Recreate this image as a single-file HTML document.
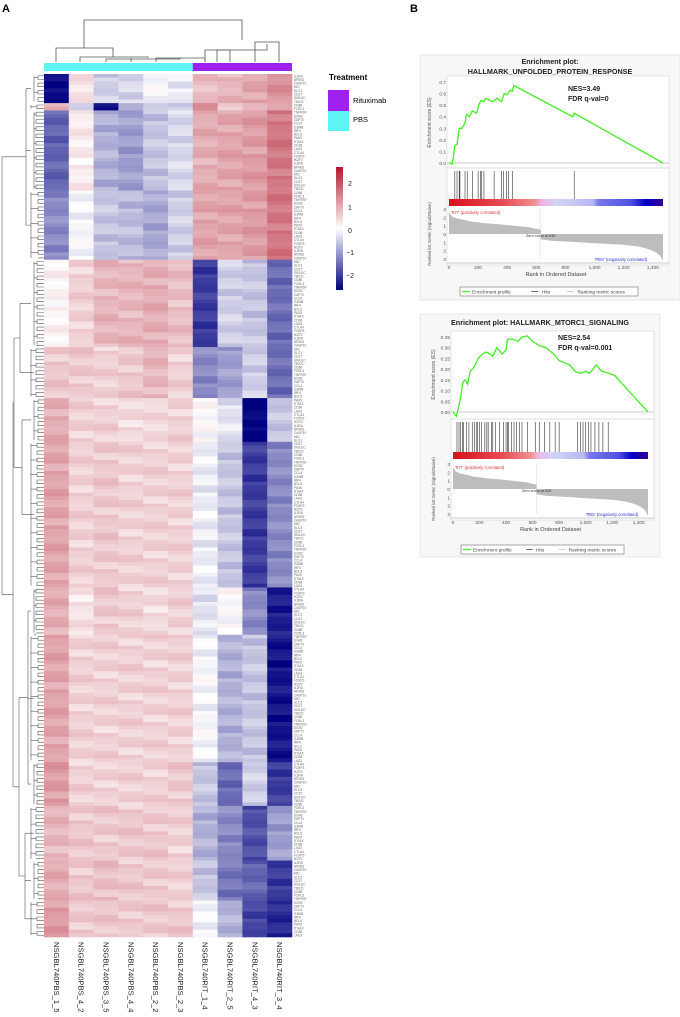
<!DOCTYPE html>
<html><head><meta charset="utf-8"><style>
html,body{margin:0;padding:0;background:#fff;}
svg{display:block;font-family:"Liberation Sans",sans-serif;}
</style></head><body>
<svg id="fig" width="680" height="1017" viewBox="0 0 680 1017" xmlns="http://www.w3.org/2000/svg">
<text x="2" y="12" font-size="11" font-weight="bold">A</text>
<text x="410" y="12" font-size="11" font-weight="bold">B</text>
<g id="heat"></g>
<g id="dendro"></g>
<g stroke="#555" stroke-width="0.8" fill="none">
<path d="M84 48 V20 H242 V40"/>
<path d="M56 62 V48 H113 V57"/>
<path d="M80 62 V57 H148 V58"/>
<path d="M106 62 V59 H180 V58"/>
<path d="M131 62 V58 H131 M156 62 V58 H205 V62"/>
<path d="M217 62 V50 H267 V44"/>
<path d="M205 62 V50 H230 V50 M230 62 V50"/>
<path d="M255 44 V42 H279 V62 M255 62 V44"/>
</g>
<rect x="44" y="63" width="148.8" height="8" fill="#5ff5f5"/>
<rect x="192.8" y="63" width="99.2" height="8" fill="#a020f0"/>
<g id="collabels"></g>
<g>
<text x="329" y="80" font-size="8" font-weight="bold">Treatment</text>
<rect x="328" y="90" width="21" height="21" fill="#a020f0"/>
<text x="353" y="103" font-size="7.5">Rituximab</text>
<rect x="328" y="111" width="21" height="20" fill="#5ff5f5"/>
<text x="353" y="122" font-size="7.5">PBS</text>
</g>
<defs>
<linearGradient id="cs" x1="0" y1="0" x2="0" y2="1">
<stop offset="0" stop-color="#b2182b"/><stop offset="0.5" stop-color="#ffffff"/><stop offset="1" stop-color="#000080"/>
</linearGradient>
<linearGradient id="rb" x1="0" y1="0" x2="1" y2="0">
<stop offset="0" stop-color="#d8101a"/><stop offset="0.25" stop-color="#e84a55"/><stop offset="0.4" stop-color="#f09090"/><stop offset="0.43" stop-color="#f0b0e0"/><stop offset="0.5" stop-color="#d4d4f6"/><stop offset="0.67" stop-color="#b8b8f4"/><stop offset="0.7" stop-color="#7878ee"/><stop offset="0.85" stop-color="#5050e0"/><stop offset="0.92" stop-color="#0000c8"/><stop offset="1" stop-color="#3a0090"/>
</linearGradient>
</defs>
<g>
<rect x="336" y="167" width="7" height="123" fill="url(#cs)"/>
<g font-size="7" fill="#222">
<text x="348" y="186">2</text>
<text x="348" y="210">1</text>
<text x="348" y="233">0</text>
<text x="346" y="255">−1</text>
<text x="346" y="278">−2</text>
</g></g>
<g id="gsea1"></g>
<g id="gsea2"></g>
</svg>
<script>
// ===== Heatmap data =====
const samples = ["NSGBL740PBS_1_5","NSGBL740PBS_4_2","NSGBL740PBS_3_5","NSGBL740PBS_4_4","NSGBL740PBS_2_2","NSGBL740PBS_2_3","NSGBL740RIT_1_4","NSGBL740RIT_2_5","NSGBL740RIT_4_3","NSGBL740RIT_3_4"];
const blockRows = [8,2,22,19,24,14,12,40,13,35,12,15,11,10];
const blockValues = [
 [-2.5,0.3,-0.5,-0.4,-0.1,-0.2,0.7,0.8,1.0,1.2],
 [0.8,-0.3,-2.4,-0.8,-0.6,-0.6,1.5,0.6,0.8,0.9],
 [-1.6,0.2,-0.8,-1.0,-0.6,-0.4,0.9,1.0,1.1,1.5],
 [-1.2,-0.1,-0.6,-0.7,-0.9,-0.5,1.0,1.0,1.1,1.5],
 [0.1,0.5,0.8,0.8,0.9,0.7,-2.0,-0.5,-0.6,-1.5],
 [0.6,0.6,0.5,0.6,0.8,0.5,-1.2,-1.0,-0.5,-1.5],
 [0.9,0.5,0.5,0.4,0.4,0.5,0.0,-0.3,-2.6,-0.6],
 [1.0,0.5,0.6,0.5,0.5,0.5,-0.2,-0.6,-2.0,-1.2],
 [0.9,0.3,0.6,0.5,0.4,0.5,-0.3,0.0,-1.2,-2.3],
 [1.0,0.5,0.5,0.5,0.5,0.5,-0.1,-0.8,-0.6,-2.4],
 [1.1,0.5,0.5,0.5,0.5,0.6,-0.6,-1.5,-0.5,-2.0],
 [0.8,0.6,0.6,0.6,0.6,0.5,-0.8,-1.2,-1.8,-1.0],
 [0.9,0.6,0.7,0.6,0.6,0.5,-0.6,-1.4,-1.6,-2.0],
 [1.1,0.6,0.6,0.6,0.6,0.6,-0.1,-0.8,-1.9,-2.2]
];
const rowJitter = [0.1,-0.14,0.04,0.17,-0.07,0.0,-0.2,0.14,0.07,-0.1,0.2,-0.04,0.0,0.14,-0.17];
const geneNames = ["IL2RA","NFKB2","CASP10","MIC","SLC3","CD27","SIGLEC","TBX21","CD86","FCRL3","TNFRSF","EGR2","ZAP70","CCL4","GZMB","IRF4","BCL6","PAX5","ITGAX","CD38","LAG3","CTLA4","FOXP3","IKZF2"];

const NS = "http://www.w3.org/2000/svg";
function mk(tag, attrs, parent){const e=document.createElementNS(NS,tag);for(const k in attrs)e.setAttribute(k,attrs[k]);parent.appendChild(e);return e;}
function colorFor(v){
  const t=Math.max(-1,Math.min(1,v/2.6));
  let r,g,b;
  if(t>=0){r=255+(178-255)*t;g=255+(24-255)*t;b=255+(43-255)*t;}
  else{const s=-t;r=255*(1-s);g=255*(1-s);b=255+(128-255)*s;}
  return `rgb(${r|0},${g|0},${b|0})`;
}
const HX0=44,HX1=292,HY0=74,HY1=937;
const totalRows=blockRows.reduce((a,b)=>a+b,0);
const colW=(HX1-HX0)/samples.length, rowH=(HY1-HY0)/totalRows;
const xCol=i=>HX0+i*colW, yRow=q=>HY0+q*rowH;
const heat=document.getElementById('heat');
let rowIdx=0;
const blockBounds=[];
blockRows.forEach((n,bi)=>{
  const start=rowIdx;
  for(let k=0;k<n;k++){
    for(let c=0;c<samples.length;c++){
      const j=rowJitter[(rowIdx*7+c*3)%rowJitter.length];
      const cell=mk('rect',{x:xCol(c).toFixed(2),y:yRow(rowIdx).toFixed(2),width:(colW+0.3).toFixed(2),height:(rowH+0.3).toFixed(2),fill:colorFor(blockValues[bi][c]+j)},heat);
      
      
    }
    const lbl=mk('text',{x:294,y:(yRow(rowIdx)+rowH*0.9).toFixed(2),'font-size':3.2,fill:'#666'},heat);
    lbl.textContent=geneNames[rowIdx%geneNames.length];
    
    
    rowIdx++;
  }
  blockBounds.push([start,rowIdx]);
});
// row dendrogram
const dg=document.getElementById('dendro');
function ln(d){const p=mk('path',{d:d,stroke:'#555','stroke-width':0.6,fill:'none'},dg);}
const blockMid=[];
blockBounds.forEach(([s,e],bi)=>{
  const xs=38-(bi%3);
  for(let k=s;k<e;k+=2){ln(`M${xs} ${yRow(k+0.5).toFixed(1)} H${HX0} M${xs} ${yRow(k+0.5).toFixed(1)} V${yRow(Math.min(k+1.5,e-0.5)).toFixed(1)} H${HX0}`);}
  const sub=34-(bi%2)*3;
  ln(`M${sub} ${yRow(s+0.5).toFixed(1)} V${yRow(e-0.5).toFixed(1)}`);
  for(let k=s;k<e;k+=4){ln(`M${sub} ${yRow(k+1).toFixed(1)} H${xs}`);}
  blockMid.push(yRow((s+e)/2));
});
function join(a,b,x){ln(`M${x} ${a.toFixed(1)} V${b.toFixed(1)}`);}
const bm=blockMid;
ln(`M26 ${bm[0]} H31 M26 ${bm[2]} H31 M26 ${bm[3]} H31`);join(bm[0],bm[3],26);
ln(`M20 ${bm[4]} H31 M20 ${bm[5]} H34`);join(bm[4],bm[5],20);
ln(`M22 ${bm[6]} H31 M22 ${bm[7]} H34`);join(bm[6],bm[7],22);
ln(`M28 ${bm[8]} H31 M28 ${bm[9]} H34 M28 ${bm[10]} H31`);join(bm[8],bm[10],28);
ln(`M25 ${bm[11]} H34 M25 ${bm[12]} H31 M25 ${bm[13]} H34`);join(bm[11],bm[13],25);
const m1=(bm[4]+bm[5])/2,m2=(bm[6]+bm[7])/2,m3=(bm[8]+bm[10])/2,m4=(bm[11]+bm[13])/2;
ln(`M14 ${m1} H20 M14 ${m2} H22`);join(m1,m2,14);
ln(`M19 ${m3} H28 M19 ${m4} H25`);join(m3,m4,19);
const n1=(m1+m2)/2,n2=(m3+m4)/2;
ln(`M13 ${n1} H14 M13 ${n2} H19`);join(n1,n2,13);
const yTopJoin=(bm[0]+bm[3])/2,yBotJoin=(n1+n2)/2;
ln(`M2 ${yTopJoin} H26 M2 ${yBotJoin} H13`);join(yTopJoin,yBotJoin,2);
// column labels
const cl=document.getElementById('collabels');
samples.forEach((s,i)=>{
  const cx=xCol(i)+colW/2;
  const t=mk('text',{x:0,y:0,'font-size':7.6,fill:'#222',transform:`translate(${(cx-2.5).toFixed(1)},942) rotate(90)`},cl);
  t.textContent=s;
  
  
});

// ===== GSEA data =====
const es1Rank=[0,20,30,40,55,70,90,110,120,140,160,190,205,220,240,250,300,330,360,380,400,420,435,445,850,860,1470];
const es1Val=[0,-0.01,0.05,0.15,0.16,0.3,0.3,0.35,0.42,0.4,0.45,0.43,0.5,0.54,0.53,0.56,0.53,0.56,0.53,0.6,0.59,0.63,0.62,0.67,0.4,0.43,0];
const hits1=[40,55,70,75,110,125,160,200,215,225,240,310,360,375,395,410,435,860];
const es2Rank=[0,25,45,60,75,90,110,130,160,190,220,250,280,300,330,370,400,410,450,490,520,560,600,650,700,760,800,880,920,960,1000,1030,1080,1120,1180,1220,1470];
const es2Val=[0,-0.02,0.03,0.08,0.14,0.15,0.13,0.19,0.21,0.25,0.27,0.28,0.27,0.26,0.3,0.27,0.29,0.34,0.34,0.33,0.35,0.355,0.33,0.31,0.3,0.27,0.24,0.22,0.19,0.18,0.19,0.18,0.22,0.19,0.18,0.17,0];
const hits2=[30,45,55,70,80,100,120,145,160,175,185,200,215,240,255,265,290,300,320,350,380,400,410,420,440,460,480,500,520,560,620,650,690,730,770,800,940,960,980,1000,1020,1040,1070,1100,1130,1170];
const metricRank=[0,20,50,100,150,250,350,450,550,630,630,700,800,900,1000,1100,1200,1300,1350,1400,1430,1450,1470];
const metricVal=[2.6,2.1,1.9,1.7,1.5,1.3,1.15,1.0,0.8,0.5,-0.65,-0.8,-0.9,-1.0,-1.1,-1.2,-1.3,-1.5,-1.7,-2.0,-2.3,-2.6,-3.2];
const xTicks=[0,200,400,600,800,1000,1200,1400];
const xTickLabels=["0","200","400","600","800","1,000","1,200","1,400"];
const es1Ticks=[0,0.1,0.2,0.3,0.4,0.5,0.6,0.7];
const es2Ticks=[0,0.05,0.1,0.15,0.2,0.25,0.3,0.35];
const metricTicks=[3,2,1,0,-1,-2,-3];

function gsea(g,cfg){
  const X=v=>cfg.x0+(v/1470)*(cfg.x1-cfg.x0);
  const Y=v=>cfg.esY0+(v/cfg.esMax)*(cfg.esTop-cfg.esY0);
  const M=v=>cfg.m0+v*(cfg.m3-cfg.m0)/3;
  function add(tag,attrs,nm){const e=mk(tag,attrs,g);return e;}
  add('rect',{x:cfg.bx0,y:cfg.by0,width:cfg.bx1-cfg.bx0,height:cfg.by1-cfg.by0,fill:'#f7f7f7',stroke:'#ddd','stroke-width':0.6},'plot-frame');
  add('rect',{x:cfg.x0-2,y:cfg.esTop-6,width:cfg.x1-cfg.x0+8,height:cfg.m0+(cfg.m0-cfg.m3)-cfg.esTop+12,fill:'#fff',stroke:'#ccc','stroke-width':0.5},'plot-area');
  cfg.titles.forEach((t,i)=>{const e=add('text',{x:(cfg.bx0+cfg.bx1)/2,y:cfg.titleY+i*10,'font-size':cfg.titleSize,'font-weight':'bold','text-anchor':'middle',fill:'#222'},'plot-title');e.textContent=t;});
  add('line',{x1:cfg.x0-2,x2:cfg.x1+6,y1:Y(0),y2:Y(0),stroke:'#999','stroke-width':0.6},'es-zero-line');
  cfg.esTicks.forEach(t=>{const e=add('text',{x:cfg.x0-3,y:Y(t)+2,'font-size':4.8,'text-anchor':'end',fill:'#555'},'es-tick-label');e.textContent=t.toFixed(cfg.dec);});
  const yt=add('text',{x:0,y:0,'font-size':5,fill:'#555','text-anchor':'middle',transform:`translate(${cfg.x0-18},${(Y(0)+cfg.esTop)/2}) rotate(-90)`},'es-axis-title');yt.textContent='Enrichment score (ES)';
  let d='';cfg.esRank.forEach((rk,i)=>{d+=(i?'L':'M')+X(rk).toFixed(1)+' '+Y(cfg.esVal[i]).toFixed(1);});
  add('path',{d:d,stroke:'#44ee22','stroke-width':1.3,fill:'none'},'enrichment-profile-line');
  const t1=add('text',{x:cfg.nesX,y:cfg.nesY,'font-size':7,'font-weight':'bold',fill:'#222'},'nes-annotation');t1.textContent=cfg.nes;
  const t2=add('text',{x:cfg.nesX,y:cfg.nesY+10,'font-size':7,'font-weight':'bold',fill:'#222'},'fdr-annotation');t2.textContent=cfg.fdr;
  add('line',{x1:cfg.x0-2,x2:cfg.x1+6,y1:cfg.hitTop-3,y2:cfg.hitTop-3,stroke:'#bbb','stroke-width':0.5},'hits-separator');
  cfg.hits.forEach(h=>add('line',{x1:X(h),x2:X(h),y1:cfg.hitTop,y2:cfg.barY,stroke:'#222','stroke-width':0.55},'hit-line'));
  add('rect',{x:cfg.x0,y:cfg.barY,width:cfg.x1-cfg.x0,height:7,fill:'url(#rb)'},'ranking-color-bar');
  let md='M'+X(0)+' '+M(0);metricRank.forEach((rk,i)=>{md+='L'+X(rk).toFixed(1)+' '+M(metricVal[i]).toFixed(1);});md+='L'+X(1470)+' '+M(0)+'Z';
  add('path',{d:md,fill:'#bdbdbd'},'ranked-metric-area');
  metricTicks.forEach(t=>{const e=add('text',{x:cfg.x0-3,y:M(t)+2,'font-size':4.8,'text-anchor':'end',fill:'#555'},'metric-tick-label');e.textContent=String(Math.abs(t));});
  const mt=add('text',{x:0,y:0,'font-size':4.3,fill:'#555','text-anchor':'middle',transform:`translate(${cfg.x0-18},${M(0)}) rotate(-90)`},'metric-axis-title');mt.textContent='Ranked list metric (Signal2Noise)';
  const p1=add('text',{x:cfg.x0+2,y:M(3)+5,'font-size':4.2,fill:'#e03030'},'positive-label');p1.textContent="'RIT' (positively correlated)";
  const p2=add('text',{x:X(1000),y:M(-3)+2,'font-size':4.2,fill:'#3030e0'},'negative-label');p2.textContent="'PBS' (negatively correlated)";
  const z=add('text',{x:X(630),y:M(0)+3,'font-size':3.8,fill:'#333','text-anchor':'middle'},'zero-cross-label');z.textContent='Zero cross at 630';
  add('line',{x1:X(630),x2:X(630),y1:M(3),y2:M(-3),stroke:'#aaa','stroke-width':0.4,'stroke-dasharray':'1,1'},'zero-cross-line');
  add('line',{x1:cfg.x0-2,x2:cfg.x1+6,y1:M(-3)+4,y2:M(-3)+4,stroke:'#999','stroke-width':0.5},'x-axis-line');
  xTicks.forEach((t,i)=>{const e=add('text',{x:X(t),y:M(-3)+10,'font-size':4.8,'text-anchor':'middle',fill:'#555'},'x-tick-label');e.textContent=xTickLabels[i];});
  const xt=add('text',{x:(cfg.x0+cfg.x1)/2,y:M(-3)+17,'font-size':5.5,'text-anchor':'middle',fill:'#444'},'x-axis-title');xt.textContent='Rank in Ordered Dataset';
  add('rect',{x:cfg.lx0,y:cfg.ly,width:cfg.lx1-cfg.lx0,height:9,fill:'#fff',stroke:'#555','stroke-width':0.5},'legend-box');
  add('line',{x1:cfg.lx0+2,x2:cfg.lx0+10,y1:cfg.ly+4.5,y2:cfg.ly+4.5,stroke:'#44ee22','stroke-width':1.2},'legend-line-profile');
  const l1=add('text',{x:cfg.lx0+12,y:cfg.ly+6.5,'font-size':4.8,fill:'#444'},'legend-entry-profile');l1.textContent='Enrichment profile';
  const w=cfg.lx1-cfg.lx0;
  add('line',{x1:cfg.lx0+w*0.4,x2:cfg.lx0+w*0.44,y1:cfg.ly+4.5,y2:cfg.ly+4.5,stroke:'#333','stroke-width':0.7},'legend-line-hits');
  const l2=add('text',{x:cfg.lx0+w*0.46,y:cfg.ly+6.5,'font-size':4.8,fill:'#444'},'legend-entry-hits');l2.textContent='Hits';
  add('line',{x1:cfg.lx0+w*0.6,x2:cfg.lx0+w*0.64,y1:cfg.ly+4.5,y2:cfg.ly+4.5,stroke:'#bbb','stroke-width':0.7},'legend-line-metric');
  const l3=add('text',{x:cfg.lx0+w*0.66,y:cfg.ly+6.5,'font-size':4.8,fill:'#444'},'legend-entry-metric');l3.textContent='Ranking metric scores';
}
gsea(document.getElementById('gsea1'),{bx0:420,bx1:680,by0:55,by1:300,titles:['Enrichment plot:','HALLMARK_UNFOLDED_PROTEIN_RESPONSE'],titleY:64,titleSize:7.2,
  x0:449,x1:663,esY0:163,esTop:82,esMax:0.7,esTicks:es1Ticks,dec:1,esRank:es1Rank,esVal:es1Val,hits:hits1,hitTop:171,barY:199,m0:234,m3:209,
  nes:'NES=3.49',fdr:'FDR q-val=0',nesX:568,nesY:91,lx0:460,lx1:638,ly:287});
gsea(document.getElementById('gsea2'),{bx0:420,bx1:660,by0:314,by1:557,titles:['Enrichment plot: HALLMARK_MTORC1_SIGNALING'],titleY:325,titleSize:7.2,
  x0:453,x1:648,esY0:412,esTop:337,esMax:0.35,esTicks:es2Ticks,dec:2,esRank:es2Rank,esVal:es2Val,hits:hits2,hitTop:422,barY:452,m0:489,m3:464,
  nes:'NES=2.54',fdr:'FDR q-val=0.001',nesX:558,nesY:340,lx0:461,lx1:624,ly:545});
</script>
</body></html>
